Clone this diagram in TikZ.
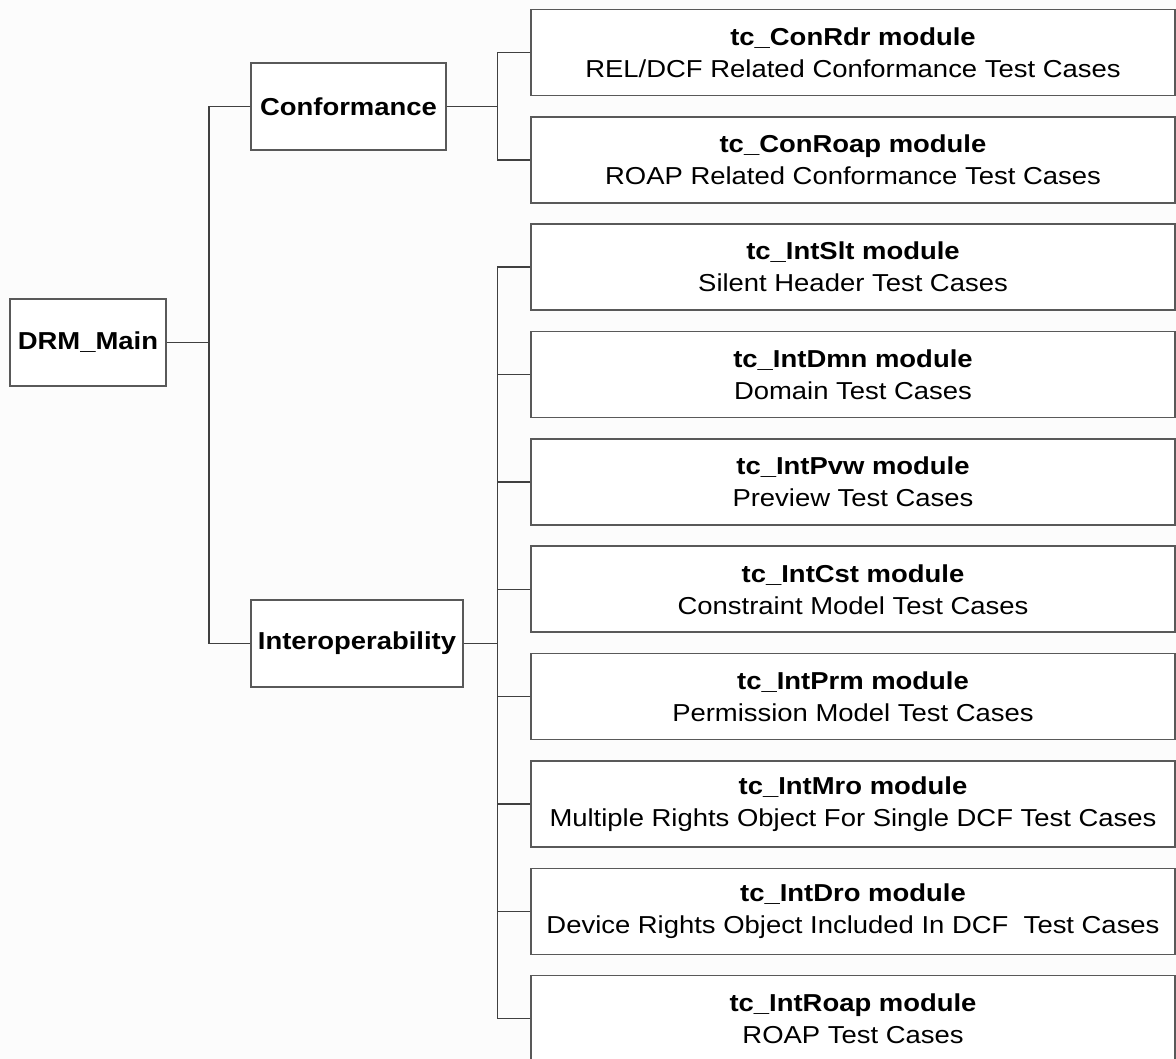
\documentclass[tikz,border=0pt]{standalone}
\usepackage{fontspec}
\setmainfont[FakeStretch=1.12]{Liberation Sans}
\begin{document}
\begin{tikzpicture}[x=1pt, y=-1pt,
  box/.style={draw=black!65, line width=1.6pt, fill=white, inner sep=0pt,
    align=center, font=\fontsize{24.5}{32}\selectfont},
  topbox/.style={box, minimum height=87pt, font=\fontsize{24.5}{32}\selectfont\bfseries},
  modbox/.style={box, minimum width=644pt, minimum height=86pt},
  link/.style={draw=black!75, line width=1.5pt}]
  % page and visible area
  \fill[black!1] (0,0) rectangle (1176,1059);
  \clip (0,0) rectangle (1176,1059);

  % tree levels
  \node[topbox, minimum width=156pt] (drm)  at (88,342.5)  {DRM\_Main};
  \node[topbox, minimum width=195pt] (conf) at (348.5,106.5) {Conformance};
  \node[topbox, minimum width=212pt] (int)  at (357,643.5) {Interoperability};

  % bus positions
  \coordinate (tr) at (209,0);
  \coordinate (cb) at (497.5,0);

  % module boxes
  \foreach \i/\name/\desc in {
    0/{tc\_ConRdr module}/{REL/DCF Related Conformance Test Cases},
    1/{tc\_ConRoap module}/{ROAP Related Conformance Test Cases},
    2/{tc\_IntSlt module}/{Silent Header Test Cases},
    3/{tc\_IntDmn module}/{Domain Test Cases},
    4/{tc\_IntPvw module}/{Preview Test Cases},
    5/{tc\_IntCst module}/{Constraint Model Test Cases},
    6/{tc\_IntPrm module}/{Permission Model Test Cases},
    7/{tc\_IntMro module}/{Multiple Rights Object For Single DCF Test Cases},
    8/{tc\_IntDro module}/{Device Rights Object Included In DCF\ \ Test Cases},
    9/{tc\_IntRoap module}/{ROAP Test Cases}}
    \node[modbox] (m\i) at (853, 52.5+107.35*\i) {\textbf{\name}\\\desc};

  % root to first level
  \draw[link] (drm.east) -- (drm.east -| tr);
  \draw[link] (conf.west) -| (tr |- int.west) -- (int.west);

  % conformance modules
  \draw[link] (conf.east) -- (conf.east -| cb);
  \draw[link] (m0.west) -| (cb |- m1.west) -- (m1.west);

  % interoperability modules
  \draw[link] (int.east) -- (int.east -| cb);
  \draw[link] (m2.west) -| (cb |- m9.west) -- (m9.west);
  \foreach \i in {3,...,8}
    \draw[link] (m\i.west) -- (m\i.west -| cb);
\end{tikzpicture}
\end{document}
